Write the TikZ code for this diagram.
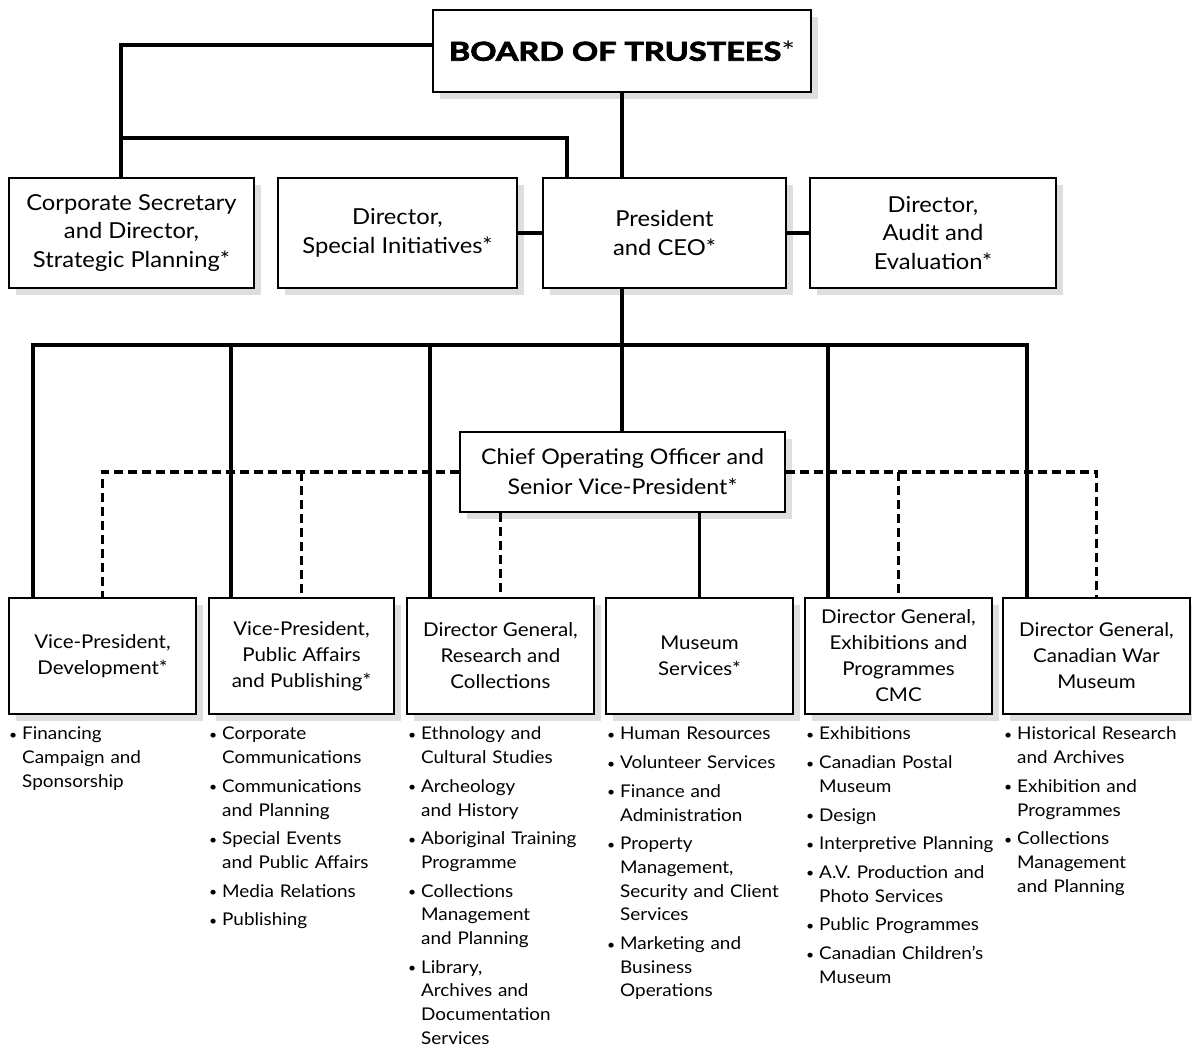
\documentclass[tikz,border=0pt]{standalone}
\usepackage{fontspec}
\setmainfont{Lato}[FakeStretch=1.08]
\newfontfamily\boardfont{Lato}[FakeStretch=1.25, BoldFeatures={FakeBold=3}]
\usetikzlibrary{shadows}
\newcommand\itm[1]{\par\vspace{5pt}\hangindent=13pt\hangafter=1\noindent\makebox[13pt][l]{\raisebox{0.5pt}{\fontsize{13}{13}\selectfont •}}#1\par}
\newcommand\lstart{\vspace*{-5pt}}
\tikzset{
  box/.style={draw, line width=1.2pt, fill=white, inner sep=0pt, align=center,
    drop shadow={shadow xshift=7pt, shadow yshift=-7pt, fill=black!13, opacity=1}},
  toprow/.style={box, minimum height=110pt, font=\fontsize{22}{28.5}\selectfont},
  botrow/.style={box, minimum height=116pt, minimum width=187pt, font=\fontsize{19}{26}\selectfont},
  conn/.style={line width=3.2pt},
  dconn/.style={line width=3.2pt, dash pattern=on 9pt off 5pt},
  lst/.style={anchor=north west, inner sep=0pt, text width=190pt, font=\fontsize{17.5}{23.7}\selectfont}
}
\begin{document}
\begin{tikzpicture}[x=1pt,y=-1pt]
\useasboundingbox (0,0) rectangle (1192,1050);
% boxes
\node[box, minimum width=378pt, minimum height=82pt, font=\boardfont\bfseries\fontsize{26}{30}\selectfont] (board) at (622,51) {BOARD OF TRUSTEES\textmd{*}};
\node[toprow, minimum width=245pt] (corp) at (131.5,233) {Corporate Secretary\\and Director,\\Strategic Planning*};
\node[toprow, minimum width=239pt] (spec) at (397.5,233) {Director,\\Special Initiatives*};
\node[toprow, minimum width=243pt] (pres) at (664.5,233) {President\\and CEO*};
\node[toprow, minimum width=246pt] (audit) at (933,233) {Director,\\Audit and\\Evaluation*};
\node[box, minimum width=325pt, minimum height=80pt, font=\fontsize{21.5}{30}\selectfont] (coo) at (622.5,472) {Chief Operating Officer and\\Senior Vice-President*};
\node[botrow] (vpd) at (102.5,656) {Vice-President,\\Development*};
\node[botrow, minimum width=185pt] (vpp) at (301.5,656) {Vice-President,\\Public Affairs\\and Publishing*};
\node[botrow] (dgr) at (500.5,656) {Director General,\\Research and\\Collections};
\node[botrow] (ms) at (699.5,656) {Museum\\Services*};
\node[botrow] (dge) at (898.5,656) {Director General,\\Exhibitions and\\Programmes\\CMC};
\node[botrow] (dgw) at (1096.5,656) {Director General,\\Canadian War\\Museum};
% junctions
\coordinate (jb) at (121,45);
\coordinate (jc) at (121,138);
\coordinate (bus) at (622,345);
% connectors
\draw[conn] (board.west |- jb) -| (corp.north -| jb);
\draw[conn] (jc) -| (pres.north -| 567,0);
\draw[conn] (board.south) -- (board.south |- pres.north);
\draw[conn] (spec.east) -- (pres.west);
\draw[conn] (pres.east) -- (audit.west);
\draw[conn] (pres.south -| bus) -- (coo.north -| bus);
\draw[conn] (vpd.north -| 33,0) |- (bus) -| (dgw.north -| 1027,0);
\draw[conn] (bus -| 231,0) -- (vpp.north -| 231,0);
\draw[conn] (bus -| 430,0) -- (dgr.north -| 430,0);
\draw[conn] (bus -| 828,0) -- (dge.north -| 828,0);
\draw[conn] (coo.south -| ms.north) -- (ms.north);
\draw[dconn] (coo.west) -| (vpd.north);
\draw[dconn] (coo.west -| vpp.north) -- (vpp.north);
\draw[dconn] (coo.south -| dgr.north) -- (dgr.north);
\draw[dconn] (coo.east) -| (dgw.north);
\draw[dconn] (coo.east -| dge.north) -- (dge.north);
% lists
\node[lst] (l1) at (9,716) {\lstart\itm{Financing\newline Campaign and\newline Sponsorship}};
\node[lst] (l2) at (209,716) {\lstart\itm{Corporate\newline Communications}\itm{Communications\newline and Planning}\itm{Special Events\newline and Public Affairs}\itm{Media Relations}\itm{Publishing}};
\node[lst] (l3) at (408,716) {\lstart\itm{Ethnology and\newline Cultural Studies}\itm{Archeology\newline and History}\itm{Aboriginal Training\newline Programme}\itm{Collections\newline Management\newline and Planning}\itm{Library,\newline Archives and\newline Documentation\newline Services}};
\node[lst] (l4) at (607,716) {\lstart\itm{Human Resources}\itm{Volunteer Services}\itm{Finance and\newline Administration}\itm{Property\newline Management,\newline Security and Client\newline Services}\itm{Marketing and\newline Business\newline Operations}};
\node[lst] (l5) at (806,716) {\lstart\itm{Exhibitions}\itm{Canadian Postal\newline Museum}\itm{Design}\itm{Interpretive Planning}\itm{A.V. Production and\newline Photo Services}\itm{Public Programmes}\itm{Canadian Children’s\newline Museum}};
\node[lst] (l6) at (1004,716) {\lstart\itm{Historical Research\newline and Archives}\itm{Exhibition and\newline Programmes}\itm{Collections\newline Management\newline and Planning}};
\end{tikzpicture}
\end{document}
